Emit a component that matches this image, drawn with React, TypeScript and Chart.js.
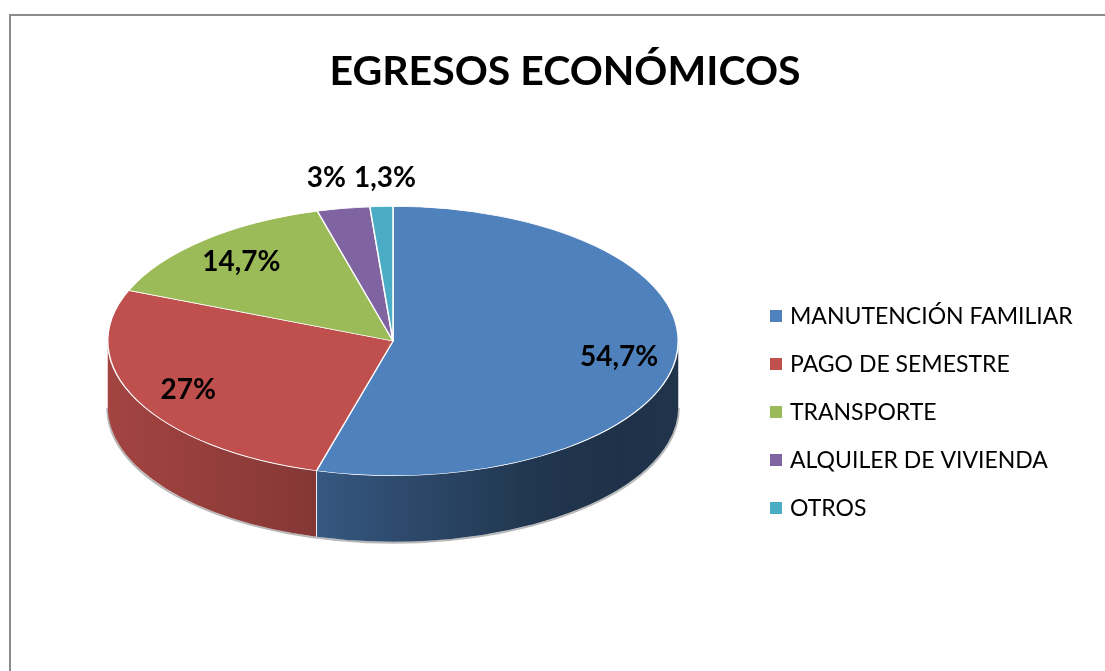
import { useEffect, useRef } from "react";
import { Chart, registerables } from "chart.js";

Chart.register(...registerables);

// ---- data ----
const TITLE = "EGRESOS ECONÓMICOS";
const CATEGORIES = [
  "MANUTENCIÓN FAMILIAR",
  "PAGO DE SEMESTRE",
  "TRANSPORTE",
  "ALQUILER DE VIVIENDA",
  "OTROS",
];
const VALUES = [54.7, 27, 14.7, 3, 1.3];
const COLORS = ["#4F81BD", "#C0504D", "#9BBB59", "#8064A2", "#4BACC6"];

// ---- geometry / style ----
const W = 1105;
const H = 671;
const CX = 393;
const CY = 341;
const RX = 286;
const TILT = 135 / 286;
const DEPTH = 66;
const FONT = "Lato, 'Open Sans', 'DejaVu Sans', sans-serif";
const SHADE_STOPS: [number, number][] = [
  [0, 0.85],
  [0.33, 0.71],
  [0.5, 0.58],
  [0.75, 0.42],
  [0.9, 0.38],
  [1, 0.4],
];

function shade(hex: string, f: number): string {
  const n = parseInt(hex.slice(1), 16);
  const r = Math.round(((n >> 16) & 255) * f);
  const g = Math.round(((n >> 8) & 255) * f);
  const b = Math.round((n & 255) * f);
  return `rgb(${r},${g},${b})`;
}

function fmt(v: number): string {
  return String(v).replace(".", ",") + "%";
}

const pie3d = {
  id: "pie3d",
  beforeDraw(chart: any) {
    const ctx = chart.ctx as CanvasRenderingContext2D;
    ctx.save();
    ctx.fillStyle = "#ffffff";
    ctx.fillRect(0, 0, chart.width, chart.height);
    ctx.restore();
  },
  beforeDatasetsDraw(chart: any) {
    const ctx = chart.ctx as CanvasRenderingContext2D;
    const arcs = chart.getDatasetMeta(0).data as any[];
    if (!arcs.length) return;
    const { x: cx, y: cy, outerRadius: rx } = arcs[0].getProps(["x", "y", "outerRadius"], true);
    const ry = rx * TILT;
    ctx.save();
    // soft shadow under the rim
    ctx.strokeStyle = "rgba(0,0,0,0.28)";
    ctx.lineWidth = 2;
    ctx.beginPath();
    ctx.ellipse(cx, cy + DEPTH + 1, rx + 0.5, ry, 0, 0, Math.PI);
    ctx.stroke();
    arcs.forEach((arc: any, i: number) => {
      const { startAngle, endAngle } = arc.getProps(["startAngle", "endAngle"], true);
      const ranges = [
        [0, Math.PI],
        [2 * Math.PI, 3 * Math.PI],
      ];
      for (const [lo, hi] of ranges) {
        const a = Math.max(startAngle, lo);
        const b = Math.min(endAngle, hi);
        if (b <= a) continue;
        const grad = ctx.createLinearGradient(cx - rx, 0, cx + rx, 0);
        SHADE_STOPS.forEach(([p, f]) => grad.addColorStop(p, shade(COLORS[i], f)));
        ctx.beginPath();
        ctx.ellipse(cx, cy, rx, ry, 0, a, b, false);
        ctx.ellipse(cx, cy + DEPTH, rx, ry, 0, b, a, true);
        ctx.closePath();
        ctx.fillStyle = grad;
        ctx.fill();
        ctx.strokeStyle = "rgba(255,255,255,0.85)";
        ctx.lineWidth = 1;
        for (const t of [a, b]) {
          if (t > lo + 1e-6 && t < hi - 1e-6) {
            const px = cx + rx * Math.cos(t);
            const py = cy + ry * Math.sin(t);
            ctx.beginPath();
            ctx.moveTo(px, py);
            ctx.lineTo(px, py + DEPTH);
            ctx.stroke();
          }
        }
      }
    });
    ctx.restore();
    ctx.save();
    ctx.translate(cx, cy);
    ctx.scale(1, TILT);
    ctx.translate(-cx, -cy);
  },
  afterDatasetsDraw(chart: any) {
    const ctx = chart.ctx as CanvasRenderingContext2D;
    ctx.restore();
    const arcs = chart.getDatasetMeta(0).data as any[];
    if (!arcs.length) return;
    const { x: cx, y: cy, outerRadius: rx } = arcs[0].getProps(["x", "y", "outerRadius"], true);
    const ry = rx * TILT;
    const data = chart.data.datasets[0].data as number[];
    const total = data.reduce((s, v) => s + v, 0);
    ctx.save();
    ctx.font = `bold 28px ${FONT}`;
    ctx.fillStyle = "#000";
    ctx.textAlign = "center";
    ctx.textBaseline = "alphabetic";
    const outside: { x: number; y: number; w: number; text: string }[] = [];
    arcs.forEach((arc: any, i: number) => {
      const { startAngle, endAngle } = arc.getProps(["startAngle", "endAngle"], true);
      const mid = (startAngle + endAngle) / 2;
      const text = fmt(data[i]);
      const share = data[i] / total;
      if (share >= 0.05) {
        const f = 0.8;
        const x = cx + rx * f * Math.cos(mid);
        const y = cy + ry * f * Math.sin(mid);
        ctx.fillText(text, x, y + 10);
      } else {
        const f = 1.22;
        outside.push({
          x: cx + rx * f * Math.cos(mid),
          y: cy + ry * f * Math.sin(mid),
          w: ctx.measureText(text).width,
          text,
        });
      }
    });
    // resolve overlaps between neighbouring outside labels
    outside.sort((p, q) => p.x - q.x);
    for (let k = 1; k < outside.length; k++) {
      const p = outside[k - 1];
      const q = outside[k];
      const need = p.w / 2 + q.w / 2 + 8;
      const gap = q.x - p.x;
      if (gap < need) {
        const push = (need - gap) / 2;
        p.x -= push;
        q.x += push;
        const yy = Math.min(p.y, q.y);
        p.y = yy;
        q.y = yy;
      }
    }
    outside.forEach((o) => ctx.fillText(o.text, o.x, o.y + 10));
    ctx.restore();
  },
  afterDraw(chart: any) {
    const ctx = chart.ctx as CanvasRenderingContext2D;
    ctx.save();
    // border
    ctx.fillStyle = "#8c8c8c";
    ctx.fillRect(9, 14, 2, H);
    ctx.fillRect(9, 14, W, 2);
    // title
    ctx.fillStyle = "#000";
    ctx.font = `bold 41px ${FONT}`;
    ctx.textAlign = "center";
    ctx.textBaseline = "alphabetic";
    ctx.fillText(TITLE, 565, 85);
    // legend
    const labels = chart.data.labels as string[];
    const colors = chart.data.datasets[0].backgroundColor as string[];
    ctx.font = `23px ${FONT}`;
    ctx.textAlign = "left";
    labels.forEach((lab, i) => {
      const yc = 316 + i * 48;
      ctx.fillStyle = colors[i];
      ctx.fillRect(770, yc - 6, 12, 12);
      ctx.fillStyle = "#000";
      ctx.fillText(lab, 790, yc + 8);
    });
    ctx.restore();
  },
};

export default function App() {
  const ref = useRef<HTMLCanvasElement | null>(null);
  useEffect(() => {
    if (!ref.current) return;
    const chart = new Chart(ref.current, {
      type: "pie",
      data: {
        labels: CATEGORIES,
        datasets: [
          {
            data: VALUES,
            backgroundColor: COLORS,
            borderColor: "#ffffff",
            borderWidth: 1.5,
            clip: false as any,
          },
        ],
      },
      options: {
        animation: false,
        responsive: false,
        events: [],
        layout: {
          padding: {
            left: CX - RX,
            right: W - (CX + RX),
            top: CY - RX,
            bottom: H - (CY + RX),
          },
        },
        plugins: {
          legend: { display: false },
          tooltip: { enabled: false },
          title: { display: false },
        },
      },
      plugins: [pie3d],
    });
    return () => chart.destroy();
  }, []);
  return (
    <canvas
      ref={ref}
      width={W}
      height={H}
      style={{ position: "absolute", left: 0, top: 0, width: W, height: H }}
    />
  );
}
